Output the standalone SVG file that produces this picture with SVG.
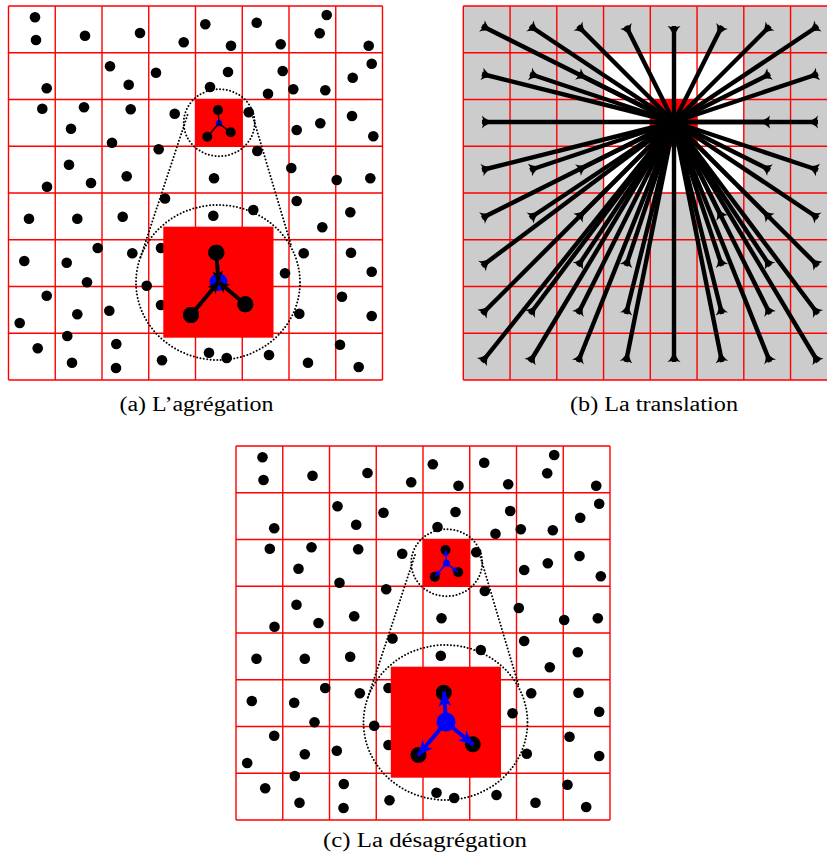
<svg xmlns="http://www.w3.org/2000/svg" xmlns:xlink="http://www.w3.org/1999/xlink" width="827" height="855" viewBox="0 0 827 855">
<style>
.grid{fill:none;stroke:#ff0000;stroke-width:1.4}
.dots circle{fill:#000}
.dotted{fill:none;stroke:#000;stroke-width:2;stroke-dasharray:0 3.4;stroke-linecap:round}
.tr{fill:none;stroke:#000;stroke-width:4.4}
.agg{stroke:#000;stroke-width:4}
.aggs{stroke:#000;stroke-width:1.5}
.des{stroke:#0000ff;stroke-width:4}
.dess{stroke:#0000ff;stroke-width:1.6}
.cap{font-family:"Liberation Serif","DejaVu Serif",serif;font-size:20px;fill:#000}
</style>
<defs>
<marker id="tail" markerUnits="userSpaceOnUse" viewBox="-2 -8 18 16" markerWidth="18" markerHeight="16" refX="0" refY="0" orient="auto" overflow="visible">
<path d="M0,-6.5 Q4,-1.8 13,0 Q4,1.8 0,6.5 Q2.2,0 0,-6.5Z" fill="#000"/>
</marker>
<marker id="hk" markerUnits="userSpaceOnUse" viewBox="-12 -7 14 14" markerWidth="14" markerHeight="14" refX="0" refY="0" orient="auto" overflow="visible">
<path d="M-11,-5.5 L0,0 L-11,5.5 L-8,0Z" fill="#000"/>
</marker>
<marker id="hb" markerUnits="userSpaceOnUse" viewBox="-16 -8 18 16" markerWidth="18" markerHeight="16" refX="0" refY="0" orient="auto" overflow="visible">
<path d="M-15,-6.5 L0,0 L-15,6.5 L-11,0Z" fill="#0000ff"/>
</marker>
<marker id="hbs" markerUnits="userSpaceOnUse" viewBox="-8 -4 10 8" markerWidth="10" markerHeight="8" refX="0" refY="0" orient="auto" overflow="visible">
<path d="M-6,-3 L0,0 L-6,3 L-4.5,0Z" fill="#0000ff"/>
</marker>
<path id="gridA" class="grid" d="M8.5,6V380M55.25,6V380M102,6V380M148.75,6V380M195.5,6V380M242.25,6V380M289,6V380M335.75,6V380M382.5,6V380M8.5,6H382.5M8.5,52.75H382.5M8.5,99.5H382.5M8.5,146.25H382.5M8.5,193H382.5M8.5,239.75H382.5M8.5,286.5H382.5M8.5,333.25H382.5M8.5,380H382.5"/>
<g id="field">
<rect x="8.5" y="6" width="374" height="374" fill="#fff"/>
<use xlink:href="#gridA"/>
<g class="dots">
<circle cx="35" cy="17.3" r="5.3"/><circle cx="36" cy="40" r="5.3"/><circle cx="85" cy="35.7" r="5.3"/><circle cx="140" cy="33" r="5.3"/><circle cx="183.7" cy="42.3" r="5.3"/>
<circle cx="110" cy="66.3" r="5.3"/><circle cx="156" cy="72.7" r="5.3"/><circle cx="128.7" cy="84.7" r="5.3"/><circle cx="46.7" cy="88.3" r="5.3"/><circle cx="42.3" cy="108.7" r="5.3"/>
<circle cx="84" cy="107.3" r="5.3"/><circle cx="130.7" cy="109.3" r="5.3"/><circle cx="174.7" cy="113.7" r="5.3"/><circle cx="71" cy="128.7" r="5.3"/><circle cx="112" cy="142.7" r="5.3"/>
<circle cx="158.7" cy="149.3" r="5.3"/><circle cx="69" cy="164.7" r="5.3"/><circle cx="126.7" cy="176.3" r="5.3"/><circle cx="91" cy="183" r="5.3"/><circle cx="47" cy="186.7" r="5.3"/>
<circle cx="165" cy="198.5" r="5.3"/><circle cx="205.3" cy="24.3" r="5.3"/><circle cx="256.7" cy="22.7" r="5.3"/><circle cx="326.7" cy="15" r="5.3"/><circle cx="231" cy="45.7" r="5.3"/>
<circle cx="280.7" cy="44.3" r="5.3"/><circle cx="319.7" cy="33.3" r="5.3"/><circle cx="368.7" cy="45.7" r="5.3"/><circle cx="228" cy="72" r="5.3"/><circle cx="282.7" cy="71" r="5.3"/>
<circle cx="371.7" cy="63.7" r="5.3"/><circle cx="352.7" cy="77.7" r="5.3"/><circle cx="210" cy="87" r="5.3"/><circle cx="268" cy="93.7" r="5.3"/><circle cx="293.3" cy="89.3" r="5.3"/>
<circle cx="325.3" cy="90.3" r="5.3"/><circle cx="248.7" cy="112.3" r="5.3"/><circle cx="296.7" cy="130" r="5.3"/><circle cx="320.3" cy="123.3" r="5.3"/><circle cx="352" cy="116" r="5.3"/>
<circle cx="373.3" cy="136.3" r="5.3"/><circle cx="257.3" cy="151" r="5.3"/><circle cx="291.3" cy="168" r="5.3"/><circle cx="336.7" cy="180" r="5.3"/><circle cx="370.3" cy="178.3" r="5.3"/>
<circle cx="214" cy="178.3" r="5.3"/><circle cx="296.7" cy="201" r="5.3"/><circle cx="29" cy="218.7" r="5.3"/><circle cx="77.3" cy="218.7" r="5.3"/><circle cx="122.7" cy="216.7" r="5.3"/>
<circle cx="24.3" cy="261" r="5.3"/><circle cx="66.7" cy="262.7" r="5.3"/><circle cx="97.7" cy="248" r="5.3"/><circle cx="132.3" cy="253.3" r="5.3"/><circle cx="87" cy="282.3" r="5.3"/>
<circle cx="146.7" cy="285.7" r="5.3"/><circle cx="161" cy="248" r="5.3"/><circle cx="161" cy="305" r="5.3"/><circle cx="46.7" cy="295.7" r="5.3"/><circle cx="19.7" cy="323" r="5.3"/>
<circle cx="77.3" cy="314.3" r="5.3"/><circle cx="109.3" cy="310.7" r="5.3"/><circle cx="67.3" cy="336" r="5.3"/><circle cx="37.7" cy="348.3" r="5.3"/><circle cx="116.3" cy="344" r="5.3"/>
<circle cx="72" cy="362.7" r="5.3"/><circle cx="116" cy="368" r="5.3"/><circle cx="162" cy="360.3" r="5.3"/><circle cx="213.3" cy="215.7" r="5.3"/><circle cx="253.3" cy="210" r="5.3"/>
<circle cx="322.3" cy="227.3" r="5.3"/><circle cx="350.3" cy="212.3" r="5.3"/><circle cx="303.7" cy="253.3" r="5.3"/><circle cx="351" cy="252.7" r="5.3"/><circle cx="371.7" cy="271.7" r="5.3"/>
<circle cx="285" cy="273.3" r="5.3"/><circle cx="342" cy="296.7" r="5.3"/><circle cx="371.7" cy="316" r="5.3"/><circle cx="299.3" cy="313.7" r="5.3"/><circle cx="340" cy="344.7" r="5.3"/>
<circle cx="209" cy="352.7" r="5.3"/><circle cx="226.7" cy="358" r="5.3"/><circle cx="269" cy="355" r="5.3"/><circle cx="308" cy="362.7" r="5.3"/><circle cx="358.7" cy="367" r="5.3"/>
</g>
<ellipse class="dotted" cx="219.2" cy="122.7" rx="35.5" ry="33.5"/>
<ellipse class="dotted" cx="218" cy="282.5" rx="82" ry="77.5"/>
<line class="dotted" x1="187.5" y1="115" x2="140" y2="258.8"/>
<line class="dotted" x1="252" y1="114" x2="291" y2="245"/>
<rect x="195.5" y="99.5" width="46.75" height="46.75" fill="#ff0000"/>
<rect x="163.3" y="226.7" width="110.2" height="111" fill="#ff0000"/>
<g class="dots">
<circle cx="218" cy="110" r="5"/><circle cx="207.3" cy="136.7" r="5"/><circle cx="230.7" cy="132.3" r="5"/>
<circle cx="216.3" cy="252.7" r="8"/><circle cx="191" cy="315" r="8"/><circle cx="245.3" cy="304.3" r="8"/>
</g>
</g>
</defs>

<g id="panel-a">
<use xlink:href="#field"/>
<g id="agg-small">
<circle cx="219" cy="123.3" r="3.2" fill="#0000ff"/>
<line class="aggs" x1="218" y1="110" x2="219" y2="123.3"/>
<line class="aggs" x1="207.3" y1="136.7" x2="219" y2="123.3"/>
<line class="aggs" x1="230.7" y1="132.3" x2="219" y2="123.3"/>
</g>
<g id="agg-big">
<circle cx="218.5" cy="282" r="9" fill="#0000ff"/>
<line class="agg" x1="216.3" y1="252.7" x2="218.5" y2="282" marker-end="url(#hk)"/>
<line class="agg" x1="191" y1="315" x2="218.5" y2="282" marker-end="url(#hk)"/>
<line class="agg" x1="245.3" y1="304.3" x2="218.5" y2="282" marker-end="url(#hk)"/>
<circle cx="216.3" cy="252.7" r="8"/><circle cx="191" cy="315" r="8"/><circle cx="245.3" cy="304.3" r="8"/>
</g>
<text class="cap" x="196.5" y="411" text-anchor="middle" textLength="154" lengthAdjust="spacingAndGlyphs">(a) L’agrégation</text>
</g>

<g id="panel-b">
<rect x="463.3" y="6" width="374" height="374" fill="#cccccc"/>
<rect x="603.55" y="52.75" width="140.25" height="140.25" fill="#ffffff"/>
<rect x="650.3" y="99.5" width="46.75" height="46.75" fill="#ff0000"/>
<path class="grid" d="M463.3,6V380M510.05,6V380M556.8,6V380M603.55,6V380M650.3,6V380M697.05,6V380M743.8,6V380M790.55,6V380M837.3,6V380M463.3,6H837.3M463.3,52.75H837.3M463.3,99.5H837.3M463.3,146.25H837.3M463.3,193H837.3M463.3,239.75H837.3M463.3,286.5H837.3M463.3,333.25H837.3M463.3,380H837.3"/>
<g id="connectors" class="tr" marker-start="url(#tail)">
<path d="M482,26L674,122"/><path d="M530,26L674,122"/><path d="M578,26L674,122"/><path d="M626,26L674,122"/><path d="M674,26L674,122"/><path d="M722,26L674,122"/><path d="M770,26L674,122"/><path d="M818,26L674,122"/>
<path d="M482,74L674,122"/><path d="M530,74L674,122"/><path d="M578,74L674,122"/><path d="M770,74L674,122"/><path d="M818,74L674,122"/>
<path d="M482,122L674,122"/><path d="M770,122L674,122"/><path d="M818,122L674,122"/>
<path d="M482,170L674,122"/><path d="M530,170L674,122"/><path d="M578,170L674,122"/><path d="M770,170L674,122"/><path d="M818,170L674,122"/>
<path d="M482,218L674,122"/><path d="M530,218L674,122"/><path d="M578,218L674,122"/><path d="M722,218L674,122"/><path d="M770,218L674,122"/><path d="M818,218L674,122"/>
<path d="M482,266L674,122"/><path d="M578,266L674,122"/><path d="M626,266L674,122"/><path d="M722,266L674,122"/><path d="M770,266L674,122"/><path d="M818,266L674,122"/>
<path d="M482,314L674,122"/><path d="M530,314L674,122"/><path d="M578,314L674,122"/><path d="M626,314L674,122"/><path d="M722,314L674,122"/><path d="M770,314L674,122"/><path d="M818,314L674,122"/>
<path d="M482,362L674,122"/><path d="M530,362L674,122"/><path d="M578,362L674,122"/><path d="M626,362L674,122"/><path d="M674,362L674,122"/><path d="M722,362L674,122"/><path d="M770,362L674,122"/><path d="M818,362L674,122"/>
</g>
<text class="cap" x="654" y="411" text-anchor="middle" textLength="168" lengthAdjust="spacingAndGlyphs">(b) La translation</text>
</g>

<g id="panel-c">
<g transform="translate(227.5,440)">
<use xlink:href="#field"/>
<g id="des-small">
<line class="dess" x1="219" y1="123.3" x2="218" y2="110.5" marker-end="url(#hbs)"/>
<line class="dess" x1="219" y1="123.3" x2="207.8" y2="136.2" marker-end="url(#hbs)"/>
<line class="dess" x1="219" y1="123.3" x2="230.2" y2="132" marker-end="url(#hbs)"/>
<circle cx="219" cy="123.3" r="3.5" fill="#0000ff"/>
</g>
<g id="des-big">
<line class="des" x1="218.5" y1="282" x2="216.5" y2="251.5" marker-end="url(#hb)"/>
<line class="des" x1="218.5" y1="282" x2="190.5" y2="315.5" marker-end="url(#hb)"/>
<line class="des" x1="218.5" y1="282" x2="246" y2="305" marker-end="url(#hb)"/>
<circle cx="218.5" cy="282" r="9.5" fill="#0000ff"/>
</g>
</g>
<text class="cap" x="425" y="847" text-anchor="middle" textLength="204" lengthAdjust="spacingAndGlyphs">(c) La désagrégation</text>
</g>
</svg>
